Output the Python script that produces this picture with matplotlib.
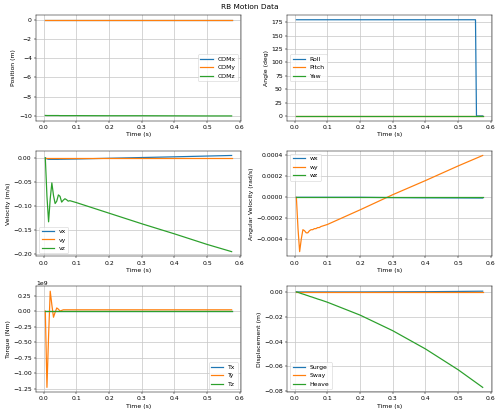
import numpy as np
import matplotlib
matplotlib.use("Agg")
import matplotlib.pyplot as plt

# time samples (s)
t = [0.005, 0.010, 0.015, 0.020, 0.025, 0.030, 0.035, 0.040, 0.045, 0.050,
     0.055, 0.060, 0.065, 0.070, 0.075, 0.080, 0.090, 0.100, 0.200, 0.300,
     0.400, 0.500, 0.575]

# position (m)
com_x = [0.0] * len(t)
com_y = [0.0] * len(t)
com_z = [-9.95, -9.96, -9.96, -9.96, -9.96, -9.96, -9.96, -9.96, -9.96, -9.97,
         -9.97, -9.97, -9.97, -9.97, -9.97, -9.97, -9.97, -9.97, -9.98, -9.98,
         -9.99, -10.0, -10.0]

# angles (deg)
t_ang = [0.005, 0.100, 0.200, 0.300, 0.400, 0.500, 0.553, 0.556, 0.575]
roll = [180, 180, 180, 180, 180, 180, 180, 0, 0]
pitch = [0.3, 0.3, 0.3, 0.3, 0.3, 0.3, 0.3, 0.3, 0.3]
yaw = [0, 0, 0, 0, 0, 0, 0, 0, 0]

# velocity (m/s)
vx = [0.0, -0.002, -0.003, -0.003, -0.003, -0.003, -0.003, -0.003, -0.003, -0.0028,
      -0.0028, -0.0027, -0.0027, -0.0026, -0.0026, -0.0025, -0.0024, -0.0023, -0.0008, 0.0007,
      0.0022, 0.0038, 0.0050]
vy = [0.0] * len(t)
vz = [0.0, -0.080, -0.133, -0.085, -0.052, -0.078, -0.095, -0.090, -0.077, -0.080,
      -0.092, -0.088, -0.085, -0.087, -0.090, -0.089, -0.091, -0.093, -0.115, -0.137,
      -0.158, -0.180, -0.195]

# angular velocity (rad/s)
wx = [0.0] * (len(t) - 4) + [-0.000003, -0.000005, -0.000006, -0.000007]
wy = [0.0, -0.00030, -0.00052, -0.00040, -0.00031, -0.00032, -0.00034, -0.00034, -0.00032, -0.00031,
      -0.00031, -0.00030, -0.00030, -0.00029, -0.00029, -0.00028, -0.00027, -0.00026, -0.00012, 0.000025,
      0.00016, 0.00030, 0.00040]
wz = [0.0] * len(t)

# torque (Nm)
tx = [0.0] * len(t)
ty = [0.0, -1.23e9, -0.40e9, 0.32e9, 0.10e9, -0.10e9, -0.02e9, 0.05e9, 0.03e9, 0.0,
      0.01e9, 0.02e9, 0.02e9, 0.02e9, 0.02e9, 0.02e9, 0.02e9, 0.02e9, 0.02e9, 0.02e9,
      0.02e9, 0.02e9, 0.02e9]
tz = [0.0] * len(t)

# displacement (m)
surge = [0.0, 0.0, 0.0, 0.0, 0.0, 0.0, 0.0, 0.0, 0.0, 0.0,
         0.0, 0.0, 0.0, 0.0, 0.0, 0.0, 0.0, 0.0, 0.0, 0.0001,
         0.0002, 0.0004, 0.0006]
sway = [0.0] * len(t)
heave = [0.0, -0.0003, -0.0008, -0.0013, -0.0017, -0.0021, -0.0026, -0.0030, -0.0035, -0.0039,
         -0.0043, -0.0048, -0.0052, -0.0057, -0.0061, -0.0065, -0.0074, -0.0083, -0.0187, -0.0313,
         -0.0460, -0.0628, -0.0770]

panels = [
    (t, [com_x, com_y, com_z], ["COMx", "COMy", "COMz"], "Position (m)", "center right"),
    (t_ang, [roll, pitch, yaw], ["Roll", "Pitch", "Yaw"], "Angle (deg)", "center left"),
    (t, [vx, vy, vz], ["vx", "vy", "vz"], "Velocity (m/s)", "lower left"),
    (t, [wx, wy, wz], ["wx", "wy", "wz"], "Angular Velocity (rad/s)", "upper left"),
    (t, [tx, ty, tz], ["Tx", "Ty", "Tz"], "Torque (Nm)", "lower right"),
    (t, [surge, sway, heave], ["Surge", "Sway", "Heave"], "Displacement (m)", "lower left"),
]

DPI = 44
fig, axes = plt.subplots(3, 2, figsize=(500 / DPI, 415 / DPI), dpi=DPI)
for ax, (x, ys, labels, ylab, loc) in zip(axes.flat, panels):
    for y, lab in zip(ys, labels):
        ax.plot(x, y, label=lab, lw=2)
    ax.set_xlabel("Time (s)")
    ax.set_ylabel(ylab)
    ax.legend(loc=loc)
    ax.grid(True, lw=1.2, color="#c8c8c8")

fig.suptitle("RB Motion Data", y=0.99)
fig.subplots_adjust(left=0.072, right=0.984, top=0.964, bottom=0.055,
                    wspace=0.225, hspace=0.283)
fig.savefig("out.png", dpi=DPI)
